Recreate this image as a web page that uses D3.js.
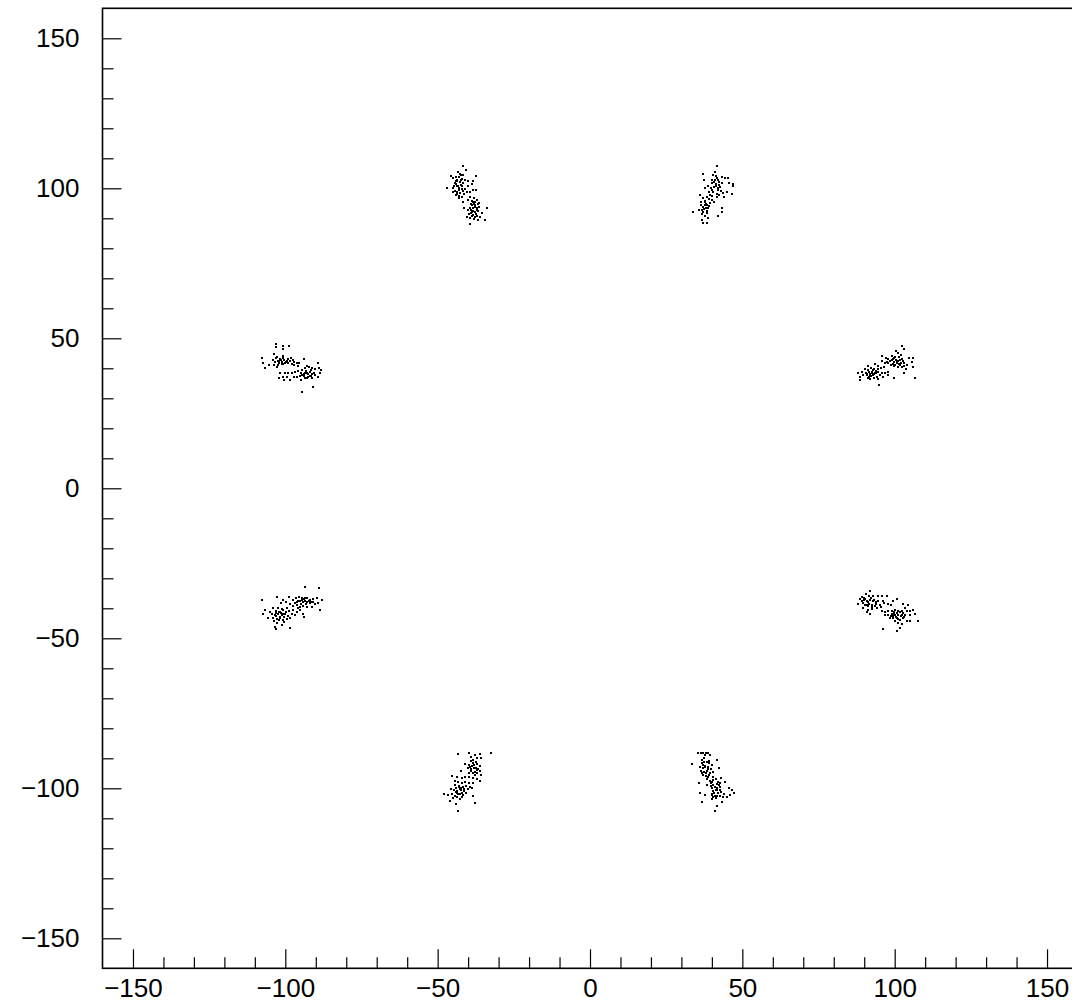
<!DOCTYPE html>
<html>
<head>
<meta charset="utf-8">
<script src="https://cdn.jsdelivr.net/npm/d3@7/dist/d3.min.js"></script>
<style>
  html, body { margin: 0; padding: 0; background: #fff; }
  svg { display: block; }
  .tick text { font-family: "Liberation Sans", Arial, sans-serif; font-size: 26px; fill: #000; }
</style>
</head>
<body>
<svg id="chart" width="1072" height="1003"></svg>
<script>
// Axis extents and tick values
const xDomain = [-160, 160];
const yDomain = [-160, 160];
const majorTicks = [-150, -100, -50, 0, 50, 100, 150];
const minorTicks = d3.range(-150, 151, 10);

// Hit positions, one array per spot
const spotTopLeft = [
  [-41.6,107.5],[-40.7,106.1],[-43.4,105.5],[-41.8,104.4],[-45.6,104.2],[-44.9,103.3],[-44.0,103.6],
  [-42.9,103.9],[-42.1,103.1],[-41.0,102.8],[-43.5,102.4],[-42.7,102.0],[-44.3,101.7],[-41.6,101.7],
  [-39.9,102.4],[-46.8,100.2],[-45.1,100.2],[-43.8,100.6],[-42.9,100.0],[-42.1,99.8],[-41.0,99.7],
  [-38.8,101.3],[-37.4,104.2],[-38.3,102.4],[-39.9,100.6],[-38.5,99.4],[-37.4,99.4],[-44.9,98.9],
  [-43.5,98.7],[-42.7,98.3],[-42.1,97.2],[-42.9,96.7],[-44.0,97.8],[-40.5,98.9],[-39.4,98.7],
  [-39.4,97.2],[-38.1,96.7],[-37.2,96.1],[-36.3,95.0],[-38.3,95.5],[-38.8,94.4],[-37.7,94.4],
  [-39.4,93.6],[-38.3,93.3],[-37.2,93.3],[-39.9,92.8],[-38.8,92.2],[-37.7,92.0],[-36.7,92.4],
  [-39.6,91.3],[-38.3,91.1],[-37.2,90.9],[-36.1,90.6],[-39.4,90.0],[-38.1,89.8],[-36.7,89.5],
  [-34.5,89.5],[-33.9,93.6],[-41.2,93.3],[-40.5,90.6],[-39.4,88.0],[-35.6,91.7],[-41.6,95.5],
  [-39.9,96.1],[-43.8,102.9],[-42.4,101.2],[-44.4,99.2],[-43.1,97.5],[-41.9,100.8],[-42.8,104.8],
  [-38.6,95.8],[-37.9,93.9],[-38.9,92.9],[-37.5,91.6],[-38.8,90.7],[-36.9,94.7],
  [-43.9,101.3],[-43.2,100.9],[-42.4,102.7],[-44.1,102.3],[-43.0,99.4],[-41.5,98.2],[-44.6,100.9],
  [-42.3,104.3],[-41.8,99.1],[-43.7,98.2],[-38.0,94.9],[-37.1,92.7],[-38.4,92.5],[-39.1,94.9],
  [-37.7,90.3],[-36.5,93.8],[-38.9,91.7],[-37.8,95.6]
];
const spotTopRight = [
  [41.8,107.5],[41.0,105.3],[37.0,104.7],[43.2,103.9],[44.3,103.5],[45.4,103.3],[46.8,101.3],
  [45.7,101.7],[47.0,100.6],[46.5,98.0],[37.4,102.8],[40.5,104.4],[41.6,103.3],[39.9,102.8],
  [40.7,102.2],[42.5,102.2],[43.2,101.7],[38.8,100.6],[37.7,100.0],[39.6,100.0],[41.4,100.6],
  [42.1,100.0],[42.9,99.1],[43.8,98.3],[44.0,97.2],[40.5,98.9],[41.6,98.0],[42.5,97.6],
  [39.4,97.8],[38.3,97.2],[36.1,97.8],[37.2,96.7],[36.3,95.6],[37.7,95.3],[38.5,94.4],
  [37.0,93.9],[38.1,93.3],[39.4,95.0],[39.9,96.1],[40.7,95.6],[35.9,92.8],[37.2,92.2],
  [38.3,91.7],[33.9,92.2],[43.2,93.6],[43.2,92.2],[42.1,90.9],[38.8,90.0],[37.2,88.3],
  [38.5,88.3],[36.7,89.5],[41.6,97.2],[44.9,98.7],[39.2,98.9],[41.2,101.4],[40.1,99.3],
  [42.0,102.9],[38.2,94.7],[37.5,93.2],[36.8,91.6],[38.9,96.4],
  [41.1,102.8],[42.4,101.2],[40.6,100.4],[41.9,99.4],[40.2,101.8],[42.8,100.5],[41.5,104.1],
  [39.9,97.3],[37.6,94.4],[36.9,92.9],[38.8,93.6],[37.9,95.9],[36.4,94.3],[38.4,92.5],
  [37.8,90.7],[39.1,94.1]
];
const spotLeftUpper = [
  [-103.1,48.1],[-103.1,47.0],[-100.6,47.4],[-98.7,47.4],[-100.9,46.3],[-103.6,44.8],[-107.5,43.3],
  [-107.2,41.9],[-105.5,41.1],[-106.6,40.0],[-103.9,42.8],[-103.1,43.3],[-102.5,42.6],[-101.7,43.0],
  [-101.1,42.2],[-100.3,42.8],[-99.5,42.6],[-99.0,43.0],[-98.4,42.6],[-97.6,42.8],[-97.0,42.2],
  [-96.2,41.9],[-95.5,41.7],[-102.2,41.7],[-101.1,41.4],[-100.1,41.7],[-99.0,41.7],[-97.9,41.4],
  [-97.0,41.1],[-95.9,40.8],[-103.6,41.1],[-102.8,40.6],[-94.0,43.0],[-89.3,41.9],[-92.9,40.8],
  [-92.2,40.3],[-91.3,40.0],[-90.4,39.7],[-89.1,40.0],[-93.7,40.0],[-94.6,39.4],[-95.7,39.2],
  [-96.8,38.9],[-97.9,38.6],[-99.0,38.3],[-100.1,38.6],[-101.7,38.3],[-102.0,36.7],[-100.3,36.1],
  [-98.4,36.1],[-97.3,37.2],[-96.2,37.2],[-95.1,37.5],[-94.0,38.1],[-92.9,38.6],[-91.8,38.9],
  [-91.1,38.1],[-90.2,37.8],[-89.3,37.2],[-88.6,38.3],[-92.4,37.2],[-93.7,36.7],[-94.8,36.1],
  [-90.8,33.9],[-94.6,32.2],[-100.6,37.2],[-99.5,37.2],[-88.2,39.4],[-102.0,42.4],[-100.8,43.6],
  [-99.8,42.0],[-93.5,38.3],[-92.0,37.6],[-94.4,37.8],[-91.2,36.8],
  [-102.6,43.9],[-101.4,42.7],[-100.6,41.3],[-99.3,42.3],[-98.1,43.3],[-102.3,41.0],[-103.3,42.1],
  [-100.9,44.2],[-93.1,39.2],[-92.5,38.0],[-91.7,37.3],[-93.9,37.4],[-90.6,38.6],[-92.9,36.9],
  [-91.5,39.5],[-94.9,38.4]
];
const spotRightUpper = [
  [102.5,47.4],[103.2,46.3],[100.3,45.9],[101.2,45.0],[102.1,44.4],[99.0,44.1],[100.1,43.9],
  [95.9,44.1],[97.0,43.3],[97.9,43.0],[99.0,42.8],[99.9,42.2],[101.0,42.6],[102.1,41.9],
  [103.2,41.7],[103.9,41.1],[104.7,43.3],[106.1,43.3],[105.6,42.2],[95.7,42.6],[96.8,41.9],
  [97.9,41.7],[98.8,41.1],[99.9,40.8],[101.0,40.6],[102.5,40.3],[103.6,39.7],[106.1,40.3],
  [103.2,38.6],[101.7,41.1],[100.6,41.7],[99.6,43.0],[97.4,42.2],[91.1,40.8],[93.5,41.4],
  [94.6,40.8],[92.2,40.0],[93.3,39.7],[94.4,39.7],[95.5,40.0],[96.6,40.3],[90.3,39.7],
  [91.3,39.4],[92.4,38.9],[93.5,38.6],[94.6,38.9],[95.7,38.6],[96.8,38.3],[97.9,38.9],
  [89.2,38.9],[88.1,38.3],[88.6,37.2],[89.7,37.8],[90.8,37.8],[91.9,37.5],[93.0,37.8],
  [94.1,37.2],[95.2,37.8],[88.6,36.1],[91.9,36.3],[93.3,36.7],[94.6,36.3],[96.3,37.0],
  [97.7,37.8],[99.9,36.7],[94.9,34.5],[106.7,36.7],[90.5,38.6],[92.7,38.3],[92.0,38.1],
  [93.8,39.1],[91.5,37.0],[101.3,41.5],[100.5,42.9],[102.8,42.4],
  [91.6,38.9],[92.3,37.3],[93.1,38.0],[90.9,38.2],[94.0,38.3],[92.8,39.4],[91.2,36.8],
  [99.4,41.5],[100.9,42.0],[102.3,43.0],[98.6,42.3],[101.7,42.8],[100.2,41.1],[99.8,43.5],
  [103.0,40.9],[101.4,43.7]
];
const spotLeftLower = [
  [-93.5,-32.8],[-88.8,-33.3],[-102.6,-36.1],[-107.8,-37.2],[-98.7,-36.1],[-96.5,-36.5],[-95.4,-36.1],
  [-94.6,-36.7],[-93.9,-36.9],[-92.8,-36.7],[-91.9,-37.2],[-90.8,-36.9],[-89.7,-36.5],[-88.1,-37.2],
  [-97.4,-37.2],[-96.3,-37.8],[-95.2,-37.6],[-94.1,-38.0],[-93.0,-37.8],[-91.9,-38.3],[-90.3,-38.7],
  [-89.2,-38.3],[-100.7,-37.2],[-99.8,-38.0],[-101.5,-38.3],[-98.5,-38.7],[-97.6,-39.1],[-96.3,-38.9],
  [-95.2,-39.4],[-94.1,-39.1],[-92.8,-39.4],[-91.4,-39.4],[-88.6,-40.6],[-106.7,-40.6],[-107.2,-42.0],
  [-105.0,-41.1],[-103.9,-40.0],[-103.1,-40.9],[-102.3,-40.0],[-101.8,-41.1],[-100.7,-40.6],[-99.6,-40.0],
  [-98.7,-40.9],[-97.4,-40.6],[-104.5,-42.0],[-103.4,-42.2],[-102.3,-42.0],[-101.2,-42.2],[-100.1,-42.0],
  [-99.0,-42.4],[-97.9,-42.0],[-96.8,-42.2],[-105.6,-43.1],[-103.9,-43.1],[-102.8,-43.6],[-101.8,-43.3],
  [-100.7,-43.9],[-99.6,-43.6],[-98.5,-43.3],[-94.1,-42.0],[-93.9,-42.8],[-103.7,-44.2],[-102.6,-45.0],
  [-101.2,-45.6],[-103.4,-46.1],[-103.1,-46.9],[-98.3,-46.7],[-96.3,-41.1],[-95.2,-40.6],[-101.5,-41.6],
  [-102.9,-42.6],[-100.3,-43.0],[-93.5,-37.4],[-91.5,-37.8],[-94.7,-38.5],
  [-102.1,-41.2],[-100.9,-41.9],[-101.7,-42.8],[-103.0,-41.5],[-99.9,-41.3],[-100.4,-44.5],[-102.2,-43.9],
  [-101.0,-40.2],[-95.8,-37.4],[-94.4,-37.1],[-93.2,-38.6],[-92.3,-37.5],[-96.7,-38.2],[-90.8,-37.9],
  [-95.9,-39.8],[-93.7,-36.4]
];
const spotRightLower = [
  [91.9,-34.1],[90.5,-35.2],[91.6,-36.0],[93.0,-36.0],[94.4,-36.0],[95.7,-36.0],[97.4,-36.0],
  [100.6,-36.8],[99.6,-37.5],[88.6,-36.8],[89.2,-37.7],[88.1,-38.6],[89.7,-38.2],[90.8,-37.5],
  [91.9,-37.1],[93.3,-37.1],[94.6,-37.5],[96.0,-37.7],[90.3,-39.0],[91.3,-39.3],[92.4,-38.8],
  [93.8,-38.6],[95.2,-38.8],[96.6,-38.2],[97.7,-38.6],[98.8,-39.0],[89.7,-39.9],[91.1,-40.4],
  [92.7,-40.1],[94.1,-39.9],[95.5,-39.7],[102.8,-38.6],[103.4,-39.9],[104.5,-39.0],[90.8,-41.2],
  [91.9,-41.9],[95.7,-41.0],[96.8,-41.2],[97.9,-40.8],[99.0,-41.0],[100.1,-40.4],[101.2,-40.8],
  [102.3,-41.0],[103.9,-41.0],[105.0,-40.8],[106.1,-40.4],[106.7,-41.9],[96.8,-42.1],[97.9,-42.3],
  [99.0,-41.9],[100.1,-42.1],[101.2,-42.3],[102.3,-42.1],[103.4,-42.3],[105.0,-42.3],[98.5,-43.2],
  [99.6,-43.4],[100.6,-43.2],[101.7,-43.8],[102.8,-43.4],[103.9,-44.1],[100.1,-44.3],[101.2,-44.9],
  [102.3,-45.4],[105.0,-44.3],[107.5,-44.1],[96.0,-46.8],[100.6,-47.4],[101.7,-46.6],[91.2,-37.9],
  [92.8,-37.4],[90.0,-36.4],[93.6,-39.3],[100.9,-41.6],[102.0,-42.7],[99.4,-42.6],
  [90.4,-36.9],[91.5,-38.4],[92.1,-36.6],[89.4,-36.1],[93.9,-37.9],[90.9,-38.9],[92.6,-39.5],
  [89.8,-37.2],[99.7,-41.8],[101.6,-41.4],[100.5,-42.9],[102.7,-41.7],[98.8,-42.5],[101.0,-43.6],
  [103.1,-43.0],[99.9,-41.2]
];
const spotBottomLeft = [
  [-43.2,-88.6],[-39.6,-88.1],[-37.7,-88.9],[-36.1,-88.6],[-32.6,-88.1],[-39.1,-89.7],[-37.2,-90.0],
  [-35.9,-90.0],[-41.0,-91.9],[-39.6,-92.2],[-38.3,-91.7],[-37.0,-91.9],[-36.1,-92.6],[-40.2,-93.3],
  [-39.2,-93.7],[-38.1,-93.3],[-37.2,-93.9],[-36.1,-94.1],[-42.4,-94.1],[-39.6,-94.8],[-38.3,-95.0],
  [-37.2,-95.0],[-35.9,-95.6],[-45.4,-95.9],[-43.7,-96.3],[-42.1,-96.7],[-41.0,-96.1],[-39.6,-96.3],
  [-38.5,-96.7],[-37.2,-97.0],[-36.1,-97.4],[-44.3,-97.4],[-43.2,-97.8],[-42.1,-98.1],[-41.0,-97.8],
  [-39.6,-98.1],[-38.5,-98.3],[-44.3,-98.9],[-42.9,-99.2],[-41.8,-99.4],[-40.7,-99.2],[-39.4,-99.7],
  [-45.7,-100.3],[-44.6,-100.6],[-43.5,-100.8],[-42.4,-100.6],[-41.3,-100.8],[-40.2,-100.3],[-38.8,-100.0],
  [-47.9,-101.9],[-46.5,-102.2],[-45.4,-101.9],[-43.7,-101.7],[-42.7,-101.9],[-41.6,-102.2],[-38.5,-102.6],
  [-45.1,-103.3],[-43.7,-103.0],[-42.7,-103.7],[-45.9,-104.1],[-44.0,-105.2],[-43.2,-107.4],[-37.7,-104.8],
  [-38.6,-92.7],[-37.8,-94.5],[-39.0,-91.0],[-42.8,-100.1],[-43.9,-101.2],[-41.9,-101.4],
  [-38.0,-92.3],[-37.5,-93.3],[-38.9,-94.1],[-37.3,-91.2],[-36.7,-93.5],[-38.4,-90.6],[-39.3,-92.8],
  [-37.9,-95.6],[-43.1,-99.5],[-42.2,-99.9],[-44.0,-100.0],[-43.3,-101.8],[-42.0,-102.8],[-41.5,-100.1],
  [-44.4,-102.4],[-40.8,-101.6]
];
const spotBottomRight = [
  [35.6,-88.1],[36.3,-88.1],[37.2,-88.1],[38.1,-88.3],[38.8,-88.3],[39.4,-88.9],[37.7,-88.9],
  [33.4,-91.9],[36.7,-90.6],[37.4,-91.1],[38.3,-91.4],[39.2,-91.7],[37.0,-92.2],[36.1,-92.8],
  [37.7,-93.0],[38.8,-92.8],[39.9,-92.2],[41.8,-90.6],[42.4,-93.3],[36.3,-94.1],[37.4,-94.4],
  [38.5,-94.1],[39.4,-94.8],[40.5,-94.4],[37.0,-95.6],[38.1,-95.9],[39.2,-95.6],[40.3,-96.1],
  [38.3,-97.0],[39.4,-97.4],[40.5,-97.2],[41.4,-97.0],[42.1,-97.8],[42.9,-96.7],[39.6,-98.3],
  [40.5,-98.9],[41.6,-98.6],[42.7,-98.3],[44.3,-97.8],[35.9,-98.3],[38.3,-98.9],[41.6,-100.0],
  [42.7,-99.7],[40.7,-101.4],[41.8,-100.6],[42.9,-101.1],[36.1,-101.7],[37.7,-102.2],[39.9,-102.2],
  [40.5,-103.0],[41.4,-103.3],[39.9,-103.7],[42.7,-102.6],[43.5,-103.0],[44.9,-103.0],[45.9,-102.2],
  [46.5,-100.6],[47.3,-101.4],[45.7,-100.0],[43.2,-104.4],[36.7,-104.4],[41.8,-105.9],[41.0,-107.4],
  [44.0,-101.9],[37.8,-92.4],[38.6,-93.6],[41.2,-100.4],[40.2,-101.9],[41.7,-102.4],[40.0,-100.0],
  [37.1,-93.4],[38.0,-94.8],[36.6,-91.7],[38.9,-91.0],[37.5,-89.8],[39.7,-93.5],[36.9,-95.0],
  [38.6,-96.2],[40.9,-99.4],[41.9,-101.6],[40.4,-100.9],[42.2,-99.0],[41.1,-102.7],[39.8,-99.3],
  [42.6,-100.6],[40.1,-98.0]
];

const spots = [spotTopLeft, spotTopRight, spotLeftUpper, spotRightUpper,
               spotLeftLower, spotRightLower, spotBottomLeft, spotBottomRight];

const svg = d3.select("#chart");
const plot = { left: 102.5, right: 1077.5, top: 8.3, bottom: 968.3 };

const x = d3.scaleLinear().domain(xDomain).range([plot.left, plot.right]);
const y = d3.scaleLinear().domain(yDomain).range([plot.bottom, plot.top]);

const majorLen = 19, minorLen = 11;

// Minor ticks (no labels), pointing into the plot
svg.append("g")
  .attr("transform", `translate(0,${plot.bottom})`)
  .call(d3.axisBottom(x).tickValues(minorTicks.filter(v => v % 50 !== 0)).tickSize(-minorLen).tickFormat(""))
  .call(g => g.select(".domain").remove());
svg.append("g")
  .attr("transform", `translate(${plot.left},0)`)
  .call(d3.axisLeft(y).tickValues(minorTicks.filter(v => v % 50 !== 0)).tickSize(-minorLen).tickFormat(""))
  .call(g => g.select(".domain").remove());

// Major ticks with labels
svg.append("g")
  .attr("transform", `translate(0,${plot.bottom})`)
  .call(d3.axisBottom(x).tickValues(majorTicks).tickSize(-majorLen).tickPadding(10).tickFormat(d3.format("d")))
  .call(g => g.select(".domain").remove());
svg.append("g")
  .attr("transform", `translate(${plot.left},0)`)
  .call(d3.axisLeft(y).tickValues(majorTicks).tickSize(-majorLen).tickPadding(23).tickFormat(d3.format("d")))
  .call(g => g.select(".domain").remove());

svg.selectAll(".tick line").attr("stroke", "#000").attr("stroke-width", 1.2);

// Frame
svg.append("rect")
  .attr("x", plot.left).attr("y", plot.top)
  .attr("width", plot.right - plot.left).attr("height", plot.bottom - plot.top)
  .attr("fill", "none").attr("stroke", "#000").attr("stroke-width", 1.6);

// Hits
const dots = svg.append("g").attr("shape-rendering", "crispEdges");
spots.forEach(pts => {
  dots.selectAll(null).data(pts).enter().append("rect")
    .attr("x", d => Math.round(x(d[0])) - 1)
    .attr("y", d => Math.round(y(d[1])) - 1)
    .attr("width", 2).attr("height", 2)
    .attr("fill", "#000");
});
</script>
</body>
</html>
